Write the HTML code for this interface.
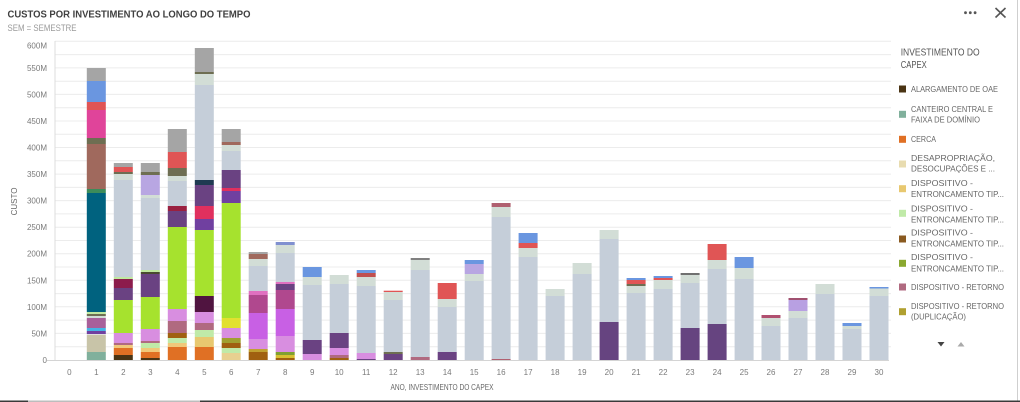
<!DOCTYPE html>
<html><head><meta charset="utf-8"><style>
html,body{margin:0;padding:0;background:#fff;width:1020px;height:402px;overflow:hidden}
svg{display:block}
text{font-family:"Liberation Sans",sans-serif}
.yl{font-size:8px;fill:#7a7a7a;text-anchor:end}
.xl{font-size:8px;fill:#7a7a7a;text-anchor:middle}
.lg{font-size:8.5px;fill:#666}
</style></head><body>
<svg width="1020" height="402" viewBox="0 0 1020 402" xmlns="http://www.w3.org/2000/svg">
<rect width="1020" height="402" fill="#fff"/>
<text x="7.5" y="17.3" font-size="10.5" font-weight="bold" fill="#404040" textLength="243" lengthAdjust="spacingAndGlyphs">CUSTOS POR INVESTIMENTO AO LONGO DO TEMPO</text>
<text x="7.5" y="31" font-size="9" fill="#9a9a9a" textLength="69" lengthAdjust="spacingAndGlyphs">SEM = SEMESTRE</text>
<g fill="#555"><circle cx="965.5" cy="12.7" r="1.4"/><circle cx="970.3" cy="12.7" r="1.4"/><circle cx="975.1" cy="12.7" r="1.4"/></g>
<g stroke="#555" stroke-width="1.6"><line x1="995.5" y1="8" x2="1005.5" y2="17.5"/><line x1="1005.5" y1="8" x2="995.5" y2="17.5"/></g>
<!-- gridlines -->
<g stroke="#ececec" stroke-width="1">
<line x1="55" y1="41.3" x2="891" y2="41.3"/><line x1="55" y1="54.6" x2="891" y2="54.6"/><line x1="55" y1="67.9" x2="891" y2="67.9"/><line x1="55" y1="81.2" x2="891" y2="81.2"/><line x1="55" y1="94.4" x2="891" y2="94.4"/><line x1="55" y1="107.7" x2="891" y2="107.7"/><line x1="55" y1="121" x2="891" y2="121"/><line x1="55" y1="134.3" x2="891" y2="134.3"/><line x1="55" y1="147.5" x2="891" y2="147.5"/><line x1="55" y1="160.8" x2="891" y2="160.8"/><line x1="55" y1="174.1" x2="891" y2="174.1"/><line x1="55" y1="187.4" x2="891" y2="187.4"/><line x1="55" y1="200.6" x2="891" y2="200.6"/><line x1="55" y1="213.9" x2="891" y2="213.9"/><line x1="55" y1="227.2" x2="891" y2="227.2"/><line x1="55" y1="240.5" x2="891" y2="240.5"/><line x1="55" y1="253.7" x2="891" y2="253.7"/><line x1="55" y1="267" x2="891" y2="267"/><line x1="55" y1="280.3" x2="891" y2="280.3"/><line x1="55" y1="293.6" x2="891" y2="293.6"/><line x1="55" y1="306.8" x2="891" y2="306.8"/><line x1="55" y1="320.1" x2="891" y2="320.1"/><line x1="55" y1="333.4" x2="891" y2="333.4"/><line x1="55" y1="346.7" x2="891" y2="346.7"/>
</g>
<line x1="55" y1="41" x2="55" y2="360" stroke="#dcdcdc"/>
<line x1="47" y1="360.5" x2="889" y2="360.5" stroke="#d4d4d4"/>
<!-- y labels -->
<text class="yl" x="47" y="48.5">600M</text>
<text class="yl" x="47" y="71">550M</text>
<text class="yl" x="47" y="97.4">500M</text>
<text class="yl" x="47" y="124">450M</text>
<text class="yl" x="47" y="150.5">400M</text>
<text class="yl" x="47" y="177.1">350M</text>
<text class="yl" x="47" y="203.6">300M</text>
<text class="yl" x="47" y="230.2">250M</text>
<text class="yl" x="47" y="256.7">200M</text>
<text class="yl" x="47" y="283.3">150M</text>
<text class="yl" x="47" y="309.8">100M</text>
<text class="yl" x="47" y="336.4">50M</text>
<text class="yl" x="47" y="363">0</text>
<text x="0" y="0" font-size="8" fill="#666" text-anchor="middle" transform="translate(16.8,201.5) rotate(-90)">CUSTO</text>
<!-- x labels -->
<g>
<text class="xl" x="69.3" y="375">0</text><text class="xl" x="96.3" y="375">1</text><text class="xl" x="123.3" y="375">2</text><text class="xl" x="150.3" y="375">3</text><text class="xl" x="177.3" y="375">4</text><text class="xl" x="204.3" y="375">5</text><text class="xl" x="231.2" y="375">6</text><text class="xl" x="258.2" y="375">7</text><text class="xl" x="285.2" y="375">8</text><text class="xl" x="312.2" y="375">9</text><text class="xl" x="339.2" y="375">10</text><text class="xl" x="366.2" y="375">11</text><text class="xl" x="393.2" y="375">12</text><text class="xl" x="420.2" y="375">13</text><text class="xl" x="447.2" y="375">14</text><text class="xl" x="474.2" y="375">15</text><text class="xl" x="501.1" y="375">16</text><text class="xl" x="528.1" y="375">17</text><text class="xl" x="555.1" y="375">18</text><text class="xl" x="582.1" y="375">19</text><text class="xl" x="609.1" y="375">20</text><text class="xl" x="636.1" y="375">21</text><text class="xl" x="663.1" y="375">22</text><text class="xl" x="690.1" y="375">23</text><text class="xl" x="717.1" y="375">24</text><text class="xl" x="744.1" y="375">25</text><text class="xl" x="771" y="375">26</text><text class="xl" x="798" y="375">27</text><text class="xl" x="825" y="375">28</text><text class="xl" x="852" y="375">29</text><text class="xl" x="879" y="375">30</text>
</g>
<text x="390.5" y="390" font-size="8" fill="#666" textLength="103" lengthAdjust="spacingAndGlyphs">ANO, INVESTIMENTO DO CAPEX</text>
<!-- bars -->
<g transform="translate(86.8,0)">
<rect y="68" width="19" height="13" fill="#a5a5a5"/><rect y="81" width="19" height="21" fill="#6a96e0"/><rect y="102" width="19" height="8" fill="#e05555"/><rect y="110" width="19" height="28" fill="#e0449a"/><rect y="138" width="19" height="6" fill="#6e6e52"/><rect y="144" width="19" height="45" fill="#a0695d"/><rect y="189" width="19" height="4" fill="#3d8c5a"/><rect y="193" width="19" height="119" fill="#00627f"/><rect y="312" width="19" height="2" fill="#c0e8a0"/><rect y="314" width="19" height="2" fill="#6e6e52"/><rect y="316" width="19" height="2" fill="#d2ddd6"/><rect y="318" width="19" height="10" fill="#a8609a"/><rect y="328" width="19" height="3" fill="#45b5e5"/><rect y="331" width="19" height="3" fill="#7040a0"/><rect y="334" width="19" height="1" fill="#e0e0e0"/><rect y="335" width="19" height="17" fill="#c8c4a8"/><rect y="352" width="19" height="8" fill="#80b09c"/>
</g>
<g transform="translate(113.8,0)">
<rect y="163" width="19" height="4" fill="#a5a5a5"/><rect y="167" width="19" height="5" fill="#e05555"/><rect y="172" width="19" height="2" fill="#6e6e52"/><rect y="174" width="19" height="6" fill="#d2ddd6"/><rect y="180" width="19" height="97" fill="#c5ced9"/><rect y="277" width="19" height="2" fill="#c0e8a0"/><rect y="279" width="19" height="9" fill="#8c1c4c"/><rect y="288" width="19" height="12" fill="#6a4282"/><rect y="300" width="19" height="33" fill="#a6e22e"/><rect y="333" width="19" height="10" fill="#d88ee0"/><rect y="343" width="19" height="2" fill="#b06a80"/><rect y="345" width="19" height="3" fill="#f0c87a"/><rect y="348" width="19" height="7" fill="#e07024"/><rect y="355" width="19" height="5" fill="#4a3414"/>
</g>
<g transform="translate(140.8,0)">
<rect y="163" width="19" height="9" fill="#a5a5a5"/><rect y="172" width="19" height="3" fill="#6e6e52"/><rect y="175" width="19" height="20" fill="#b8a6e2"/><rect y="195" width="19" height="3" fill="#d2ddd6"/><rect y="198" width="19" height="72" fill="#c5ced9"/><rect y="270" width="19" height="2" fill="#c0e8a0"/><rect y="272" width="19" height="2" fill="#4a4a30"/><rect y="274" width="19" height="23" fill="#6a4282"/><rect y="297" width="19" height="32" fill="#a6e22e"/><rect y="329" width="19" height="12" fill="#d88ee0"/><rect y="341" width="19" height="2" fill="#b06a80"/><rect y="343" width="19" height="5" fill="#c0eaa8"/><rect y="348" width="19" height="4" fill="#f0c87a"/><rect y="352" width="19" height="6" fill="#e07024"/><rect y="358" width="19" height="2" fill="#4a3414"/>
</g>
<g transform="translate(167.8,0)">
<rect y="129" width="19" height="23" fill="#a5a5a5"/><rect y="152" width="19" height="16" fill="#e05555"/><rect y="168" width="19" height="8" fill="#6e6e52"/><rect y="176" width="19" height="5" fill="#d2ddd6"/><rect y="181" width="19" height="25" fill="#c5ced9"/><rect y="206" width="19" height="5" fill="#9a2040"/><rect y="211" width="19" height="16" fill="#6a4282"/><rect y="227" width="19" height="82" fill="#a6e22e"/><rect y="309" width="19" height="12" fill="#d88ee0"/><rect y="321" width="19" height="12" fill="#b06a80"/><rect y="333" width="19" height="5" fill="#a06010"/><rect y="338" width="19" height="5" fill="#c0eaa8"/><rect y="343" width="19" height="4" fill="#f0c87a"/><rect y="347" width="19" height="13" fill="#e07024"/>
</g>
<g transform="translate(194.8,0)">
<rect y="48" width="19" height="24" fill="#a5a5a5"/><rect y="72" width="19" height="2" fill="#6e6e52"/><rect y="74" width="19" height="11" fill="#d2ddd6"/><rect y="85" width="19" height="95" fill="#c5ced9"/><rect y="180" width="19" height="5" fill="#1f3a52"/><rect y="185" width="19" height="21" fill="#6a4282"/><rect y="206" width="19" height="13" fill="#e0305e"/><rect y="219" width="19" height="11" fill="#7040a0"/><rect y="230" width="19" height="66" fill="#a6e22e"/><rect y="296" width="19" height="16" fill="#501440"/><rect y="312" width="19" height="11" fill="#d88ee0"/><rect y="323" width="19" height="7" fill="#b06a80"/><rect y="330" width="19" height="7" fill="#c0eaa8"/><rect y="337" width="19" height="10" fill="#e8c870"/><rect y="347" width="19" height="13" fill="#e07024"/>
</g>
<g transform="translate(221.7,0)">
<rect y="129" width="19" height="13" fill="#a5a5a5"/><rect y="142" width="19" height="3" fill="#a0695d"/><rect y="145" width="19" height="6" fill="#d2ddd6"/><rect y="151" width="19" height="19" fill="#c5ced9"/><rect y="170" width="19" height="18" fill="#6a4282"/><rect y="188" width="19" height="3" fill="#e0305e"/><rect y="191" width="19" height="12" fill="#7040a0"/><rect y="203" width="19" height="115" fill="#a6e22e"/><rect y="318" width="19" height="10" fill="#e2e030"/><rect y="328" width="19" height="10" fill="#d88ee0"/><rect y="338" width="19" height="5" fill="#a0a030"/><rect y="343" width="19" height="5" fill="#a06010"/><rect y="348" width="19" height="5" fill="#c0eaa8"/><rect y="353" width="19" height="7" fill="#e8d090"/>
</g>
<g transform="translate(248.7,0)">
<rect y="252" width="19" height="2" fill="#a5a5a5"/><rect y="254" width="19" height="5" fill="#a0695d"/><rect y="259" width="19" height="7" fill="#d2ddd6"/><rect y="266" width="19" height="25" fill="#c5ced9"/><rect y="291" width="19" height="4" fill="#e070c0"/><rect y="295" width="19" height="18" fill="#b0488e"/><rect y="313" width="19" height="26" fill="#c860e4"/><rect y="339" width="19" height="10" fill="#d88ee0"/><rect y="349" width="19" height="3" fill="#c0a030"/><rect y="352" width="19" height="8" fill="#a06010"/>
</g>
<g transform="translate(275.7,0)">
<rect y="242" width="19" height="3" fill="#8090d0"/><rect y="245" width="19" height="8" fill="#d2ddd6"/><rect y="253" width="19" height="29" fill="#c5ced9"/><rect y="282" width="19" height="2" fill="#e070c0"/><rect y="284" width="19" height="6" fill="#6a4282"/><rect y="290" width="19" height="19" fill="#b0488e"/><rect y="309" width="19" height="27" fill="#c860e4"/><rect y="336" width="19" height="16" fill="#d88ee0"/><rect y="352" width="19" height="3" fill="#80a030"/><rect y="355" width="19" height="3" fill="#d8c030"/><rect y="358" width="19" height="2" fill="#a06010"/>
</g>
<g transform="translate(302.7,0)">
<rect y="267" width="19" height="10" fill="#6a96e0"/><rect y="277" width="19" height="8" fill="#d2ddd6"/><rect y="285" width="19" height="55" fill="#c5ced9"/><rect y="340" width="19" height="14" fill="#6a4282"/><rect y="354" width="19" height="6" fill="#d88ee0"/>
</g>
<g transform="translate(329.7,0)">
<rect y="275" width="19" height="9" fill="#d2ddd6"/><rect y="284" width="19" height="49" fill="#c5ced9"/><rect y="333" width="19" height="15" fill="#6a4282"/><rect y="348" width="19" height="7" fill="#d88ee0"/><rect y="355" width="19" height="3" fill="#b06a80"/><rect y="358" width="19" height="2" fill="#a06010"/>
</g>
<g transform="translate(356.7,0)">
<rect y="270" width="19" height="3" fill="#6a96e0"/><rect y="273" width="19" height="4" fill="#c05050"/><rect y="277" width="19" height="9" fill="#d2ddd6"/><rect y="286" width="19" height="67" fill="#c5ced9"/><rect y="353" width="19" height="6" fill="#d88ee0"/><rect y="359" width="19" height="1" fill="#6a4282"/>
</g>
<g transform="translate(383.7,0)">
<rect y="290.7" width="19" height="1.3" fill="#e05555"/><rect y="292" width="19" height="8" fill="#d2ddd6"/><rect y="300" width="19" height="52" fill="#c5ced9"/><rect y="352" width="19" height="2" fill="#6e6e52"/><rect y="354" width="19" height="6" fill="#6a4282"/>
</g>
<g transform="translate(410.7,0)">
<rect y="258" width="19" height="2" fill="#808080"/><rect y="260" width="19" height="10" fill="#d2ddd6"/><rect y="270" width="19" height="87" fill="#c5ced9"/><rect y="357" width="19" height="3" fill="#b06a80"/>
</g>
<g transform="translate(437.7,0)">
<rect y="283" width="19" height="16" fill="#e05555"/><rect y="299" width="19" height="8" fill="#d2ddd6"/><rect y="307" width="19" height="45" fill="#c5ced9"/><rect y="352" width="19" height="8" fill="#6a4282"/>
</g>
<g transform="translate(464.7,0)">
<rect y="260" width="19" height="4" fill="#6a96e0"/><rect y="264" width="19" height="10" fill="#b8a6e2"/><rect y="274" width="19" height="7" fill="#d2ddd6"/><rect y="281" width="19" height="79" fill="#c5ced9"/>
</g>
<g transform="translate(491.6,0)">
<rect y="203" width="19" height="4" fill="#b06070"/><rect y="207" width="19" height="10" fill="#d2ddd6"/><rect y="217" width="19" height="142" fill="#c5ced9"/><rect y="359" width="19" height="1" fill="#b06070"/>
</g>
<g transform="translate(518.6,0)">
<rect y="233" width="19" height="10" fill="#6a96e0"/><rect y="243" width="19" height="5" fill="#e05555"/><rect y="248" width="19" height="9" fill="#d2ddd6"/><rect y="257" width="19" height="103" fill="#c5ced9"/>
</g>
<g transform="translate(545.6,0)">
<rect y="289" width="19" height="7" fill="#d2ddd6"/><rect y="296" width="19" height="64" fill="#c5ced9"/>
</g>
<g transform="translate(572.6,0)">
<rect y="263" width="19" height="11" fill="#d2ddd6"/><rect y="274" width="19" height="86" fill="#c5ced9"/>
</g>
<g transform="translate(599.6,0)">
<rect y="230" width="19" height="9" fill="#d2ddd6"/><rect y="239" width="19" height="83" fill="#c5ced9"/><rect y="322" width="19" height="38" fill="#664480"/>
</g>
<g transform="translate(626.6,0)">
<rect y="278" width="19" height="2" fill="#6a96e0"/><rect y="280" width="19" height="4" fill="#e05555"/><rect y="284" width="19" height="2" fill="#6e6e52"/><rect y="286" width="19" height="7" fill="#d2ddd6"/><rect y="293" width="19" height="67" fill="#c5ced9"/>
</g>
<g transform="translate(653.6,0)">
<rect y="276" width="19" height="2" fill="#6a96e0"/><rect y="278" width="19" height="2" fill="#e05555"/><rect y="280" width="19" height="9" fill="#d2ddd6"/><rect y="289" width="19" height="71" fill="#c5ced9"/>
</g>
<g transform="translate(680.6,0)">
<rect y="273" width="19" height="2" fill="#707070"/><rect y="275" width="19" height="8" fill="#d2ddd6"/><rect y="283" width="19" height="45" fill="#c5ced9"/><rect y="328" width="19" height="32" fill="#664480"/>
</g>
<g transform="translate(707.6,0)">
<rect y="244" width="19" height="16" fill="#e05555"/><rect y="260" width="19" height="9" fill="#d2ddd6"/><rect y="269" width="19" height="55" fill="#c5ced9"/><rect y="324" width="19" height="36" fill="#664480"/>
</g>
<g transform="translate(734.6,0)">
<rect y="257" width="19" height="11" fill="#6a96e0"/><rect y="268" width="19" height="11" fill="#d2ddd6"/><rect y="279" width="19" height="81" fill="#c5ced9"/>
</g>
<g transform="translate(761.5,0)">
<rect y="315" width="19" height="3" fill="#b05070"/><rect y="318" width="19" height="8" fill="#d2ddd6"/><rect y="326" width="19" height="34" fill="#c5ced9"/>
</g>
<g transform="translate(788.5,0)">
<rect y="298" width="19" height="2" fill="#a05070"/><rect y="300" width="19" height="11" fill="#b8a0e2"/><rect y="311" width="19" height="7" fill="#d2ddd6"/><rect y="318" width="19" height="42" fill="#c5ced9"/>
</g>
<g transform="translate(815.5,0)">
<rect y="284" width="19" height="10" fill="#d2ddd6"/><rect y="294" width="19" height="66" fill="#c5ced9"/>
</g>
<g transform="translate(842.5,0)">
<rect y="323" width="19" height="3" fill="#6a96e0"/><rect y="326" width="19" height="3" fill="#d2ddd6"/><rect y="329" width="19" height="31" fill="#c5ced9"/>
</g>
<g transform="translate(869.5,0)">
<rect y="287" width="19" height="1.5" fill="#6a96e0"/><rect y="288.5" width="19" height="7.5" fill="#d2ddd6"/><rect y="296" width="19" height="64" fill="#c5ced9"/>
</g>
<!-- legend -->
<text x="900.7" y="55.5" font-size="10" fill="#555" textLength="79" lengthAdjust="spacingAndGlyphs">INVESTIMENTO DO</text>
<text x="900.7" y="68" font-size="10" fill="#555" textLength="26" lengthAdjust="spacingAndGlyphs">CAPEX</text>
<rect x="899" y="85.5" width="7" height="7" fill="#4a3414"/>
<text class="lg" x="911" y="92.2" textLength="87" lengthAdjust="spacingAndGlyphs">ALARGAMENTO DE OAE</text>
<rect x="899" y="110.8" width="7" height="7" fill="#80b09c"/>
<text class="lg" x="911" y="112.2" textLength="82" lengthAdjust="spacingAndGlyphs">CANTEIRO CENTRAL E</text>
<text class="lg" x="911" y="122.4" textLength="69" lengthAdjust="spacingAndGlyphs">FAIXA DE DOMÍNIO</text>
<rect x="899" y="135.8" width="7" height="7" fill="#e07024"/>
<text class="lg" x="911" y="142.2" textLength="25" lengthAdjust="spacingAndGlyphs">CERCA</text>
<rect x="899" y="160.5" width="7" height="7" fill="#e8dcb0"/>
<text class="lg" x="911" y="161.2" textLength="84" lengthAdjust="spacingAndGlyphs">DESAPROPRIAÇÃO,</text>
<text class="lg" x="911" y="171.7" textLength="84" lengthAdjust="spacingAndGlyphs">DESOCUPAÇÕES E ...</text>
<rect x="899" y="185.2" width="7" height="7" fill="#e8c870"/>
<text class="lg" x="911" y="186.2" textLength="62" lengthAdjust="spacingAndGlyphs">DISPOSITIVO -</text>
<text class="lg" x="911" y="197.2" textLength="93" lengthAdjust="spacingAndGlyphs">ENTRONCAMENTO TIP...</text>
<rect x="899" y="209.8" width="7" height="7" fill="#c0eaa8"/>
<text class="lg" x="911" y="211.5" textLength="62" lengthAdjust="spacingAndGlyphs">DISPOSITIVO -</text>
<text class="lg" x="911" y="222.5" textLength="93" lengthAdjust="spacingAndGlyphs">ENTRONCAMENTO TIP...</text>
<rect x="899" y="235.5" width="7" height="7" fill="#8a5a20"/>
<text class="lg" x="911" y="235.5" textLength="62" lengthAdjust="spacingAndGlyphs">DISPOSITIVO -</text>
<text class="lg" x="911" y="246.5" textLength="93" lengthAdjust="spacingAndGlyphs">ENTRONCAMENTO TIP...</text>
<rect x="899" y="259.8" width="7" height="7" fill="#8aa830"/>
<text class="lg" x="911" y="260" textLength="62" lengthAdjust="spacingAndGlyphs">DISPOSITIVO -</text>
<text class="lg" x="911" y="271.3" textLength="93" lengthAdjust="spacingAndGlyphs">ENTRONCAMENTO TIP...</text>
<rect x="899" y="283.5" width="7" height="7" fill="#b06a80"/>
<text class="lg" x="911" y="289.8" textLength="93" lengthAdjust="spacingAndGlyphs">DISPOSITIVO - RETORNO</text>
<rect x="899" y="308.2" width="7" height="7" fill="#b0a030"/>
<text class="lg" x="911" y="309" textLength="93" lengthAdjust="spacingAndGlyphs">DISPOSITIVO - RETORNO</text>
<text class="lg" x="911" y="319.7" textLength="55" lengthAdjust="spacingAndGlyphs">(DUPLICAÇÃO)</text>
<polygon points="937.5,342 944.5,342 941,346.5" fill="#444"/>
<polygon points="957.5,346.5 964.5,346.5 961,342" fill="#aaa"/>
<!-- borders -->
<line x1="1017.5" y1="0" x2="1017.5" y2="402" stroke="#cfcfcf" stroke-width="1"/>
<rect x="0" y="400.5" width="1020" height="1.5" fill="#3a3a3a"/>
<rect x="28" y="400.5" width="172" height="1.5" fill="#bdbdbd"/>
</svg>
</body></html>
